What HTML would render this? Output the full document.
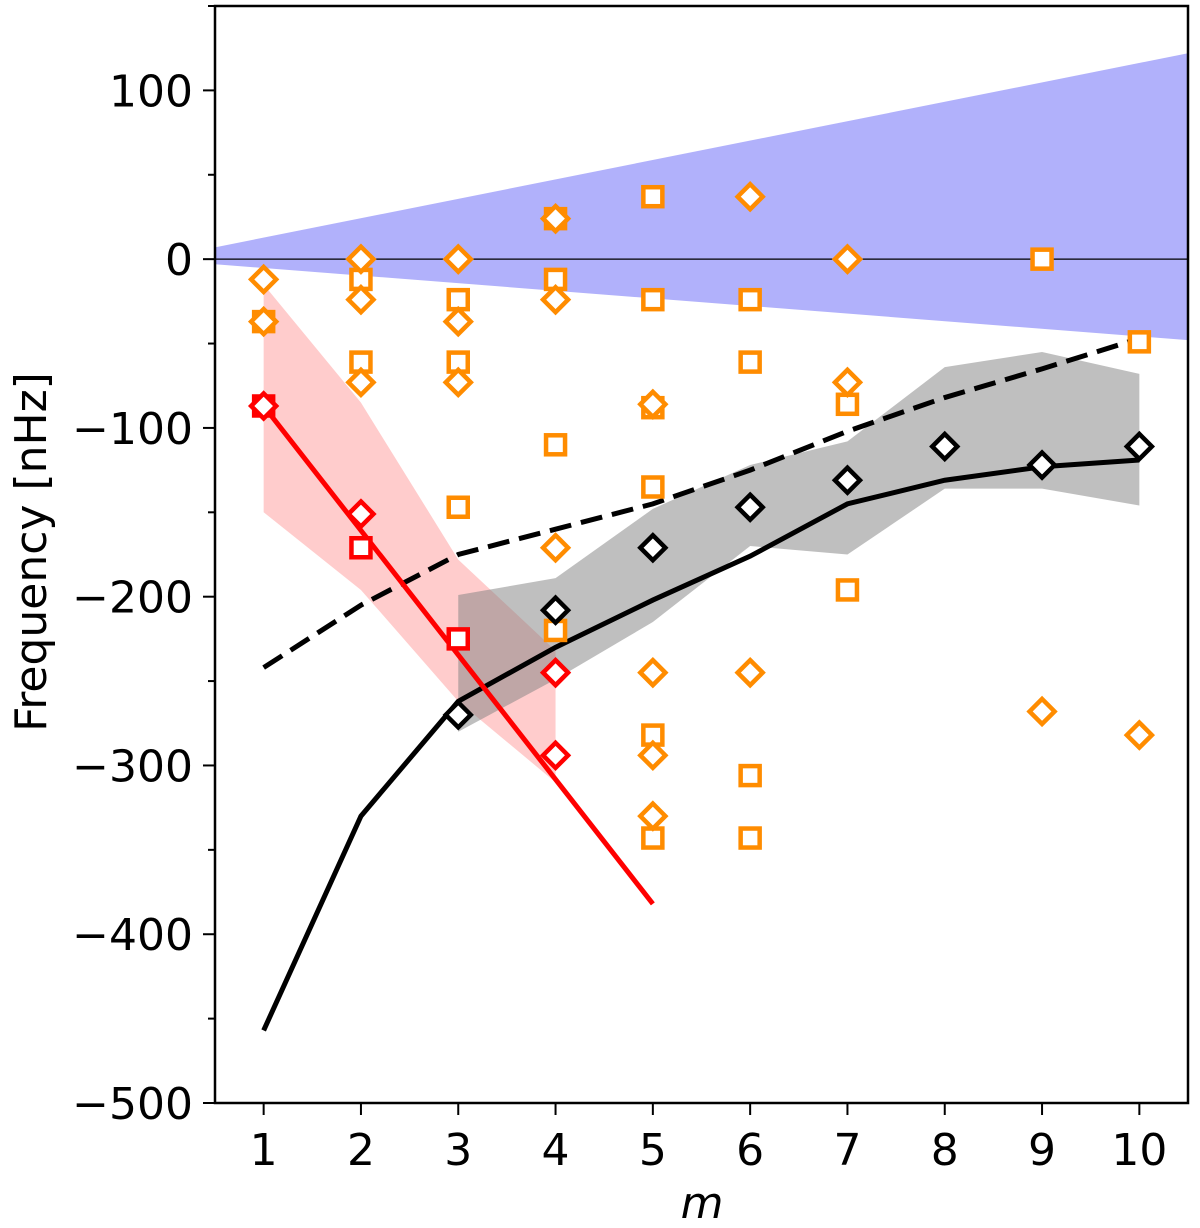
<!DOCTYPE html>
<html><head><meta charset="utf-8"><style>
body{margin:0;background:#fff}
svg text{font-family:"DejaVu Sans","Liberation Sans",sans-serif}
</style></head><body>
<svg id="chart" width="1200" height="1223" xmlns="http://www.w3.org/2000/svg"></svg>
<script>
const blueM=[0.5,10.5], blueUpper=[7,122], blueLower=[-3,-48];
const redBandM=[1,2,3,4], redBandTop=[-15,-85,-178,-232], redBandBot=[-150,-196,-262,-310];
const greyBandM=[3,4,5,6,7,8,9,10], greyTop=[-199,-189,-148,-122,-108,-64,-55,-68], greyBot=[-280,-249,-215,-170,-175,-136,-136,-146];
const solidM=[1,2,3,4,5,6,7,8,9,10], solidV=[-457,-330,-262,-230,-202,-176,-145,-131,-123,-119];
const dashV=[-242,-205,-175,-160,-145,-125,-102,-82,-65,-47];
const redLineM=[1,5], redLineV=[-87,-382];
const blackDiaM=[3,4,5,6,7,8,9,10], blackDiaV=[-270,-208,-171,-147,-131,-111,-122,-111];
const redDiaM=[1,2,4,4], redDiaV=[-87,-151,-245,-294];
const redSqM=[1,2,3], redSqV=[-87,-171,-225];
const orDiaM=[1,1,2,2,2,3,3,3,4,4,4,5,5,5,5,6,6,7,7,9,10];
const orDiaV=[-12,-37,0,-24,-73,0,-37,-73,24,-24,-171,-86,-245,-294,-330,37,-245,0,-73,-268,-282];
const orSqM=[1,2,2,3,3,3,4,4,4,4,5,5,5,5,5,5,6,6,6,6,7,7,9,10];
const orSqV=[-37,-12,-61,-24,-61,-147,24,-12,-110,-220,37,-24,-88,-135,-282,-343,-24,-61,-306,-343,-86,-196,0,-49];
const yTicks=[100,0,-100,-200,-300,-400,-500];
const xTicks=[1,2,3,4,5,6,7,8,9,10];

const L=215,R=1188,T=6,B=1103;
const X=m=>L+(m-0.5)/10*(R-L);
const Y=v=>T+(150-v)/650*(B-T);
const svg=document.getElementById('chart');
const NS='http://www.w3.org/2000/svg';
function mk(tag,attrs,parent){const e=document.createElementNS(NS,tag);for(const k in attrs)e.setAttribute(k,attrs[k]);(parent||svg).appendChild(e);return e;}
function band(ms,top,bot,fill){let pts=ms.map((m,i)=>X(m)+','+Y(top[i]));for(let i=ms.length-1;i>=0;i--)pts.push(X(ms[i])+','+Y(bot[i]));return mk('polygon',{points:pts.join(' '),fill:fill});}
let e;
e=band(blueM,blueUpper,blueLower,'#b1b1fb');


e=mk('line',{x1:L,x2:R,y1:Y(0),y2:Y(0),stroke:'#000','stroke-width':1.2});


e=band(redBandM,redBandTop,redBandBot,'rgba(255,0,0,0.2)');


e=band(greyBandM,greyTop,greyBot,'rgba(128,128,128,0.5)');


e=mk('polyline',{points:solidM.map((m,i)=>X(m)+','+Y(solidV[i])).join(' '),fill:'none',stroke:'#000','stroke-width':5});


e=mk('polyline',{points:solidM.map((m,i)=>X(m)+','+Y(dashV[i])).join(' '),fill:'none',stroke:'#000','stroke-width':5,'stroke-dasharray':'22,10'});


e=mk('polyline',{points:redLineM.map((m,i)=>X(m)+','+Y(redLineV[i])).join(' '),fill:'none',stroke:'#f00','stroke-width':5});


function dia(m,v,c,name){const x=X(m),y=Y(v),s=12.5;const d=mk('polygon',{points:`${x},${y-s} ${x+s},${y} ${x},${y+s} ${x-s},${y}`,fill:'#fff',stroke:c,'stroke-width':4.5});}
function sq(m,v,c,name){const x=X(m),y=Y(v),s=9.5;const d=mk('rect',{x:x-s,y:y-s,width:2*s,height:2*s,fill:'#fff',stroke:c,'stroke-width':4.5});}
orSqM.forEach((m,i)=>sq(m,orSqV[i],'#ff8c00','orange-square'));
orDiaM.forEach((m,i)=>dia(m,orDiaV[i],'#ff8c00','orange-diamond'));
redSqM.forEach((m,i)=>sq(m,redSqV[i],'#f00','red-square'));
redDiaM.forEach((m,i)=>dia(m,redDiaV[i],'#f00','red-diamond'));
blackDiaM.forEach((m,i)=>dia(m,blackDiaV[i],'#000','black-diamond'));
e=mk('rect',{x:L,y:T,width:R-L,height:B-T,fill:'none',stroke:'#000','stroke-width':2.5});


for(let v=-500;v<=150;v+=50){const major=v%100===0;mk('line',{x1:L-(major?12:7),x2:L,y1:Y(v),y2:Y(v),stroke:'#000','stroke-width':2});}
yTicks.forEach(v=>{const t=mk('text',{x:L-22,y:Y(v)+16,'text-anchor':'end','font-size':44});t.textContent=v<0?'\u2212'+(-v):String(v);});
xTicks.forEach(m=>{mk('line',{x1:X(m),x2:X(m),y1:B,y2:B+12,stroke:'#000','stroke-width':2});const t=mk('text',{x:X(m),y:B+62,'text-anchor':'middle','font-size':44});t.textContent=m;});
e=mk('text',{x:702,y:1218,'text-anchor':'middle','font-size':44,'font-style':'italic'});e.textContent='m';


e=mk('text',{x:46,y:552,'text-anchor':'middle','font-size':44,transform:'rotate(-90 46 552)'});e.textContent='Frequency [nHz]';


</script>
</body></html>
